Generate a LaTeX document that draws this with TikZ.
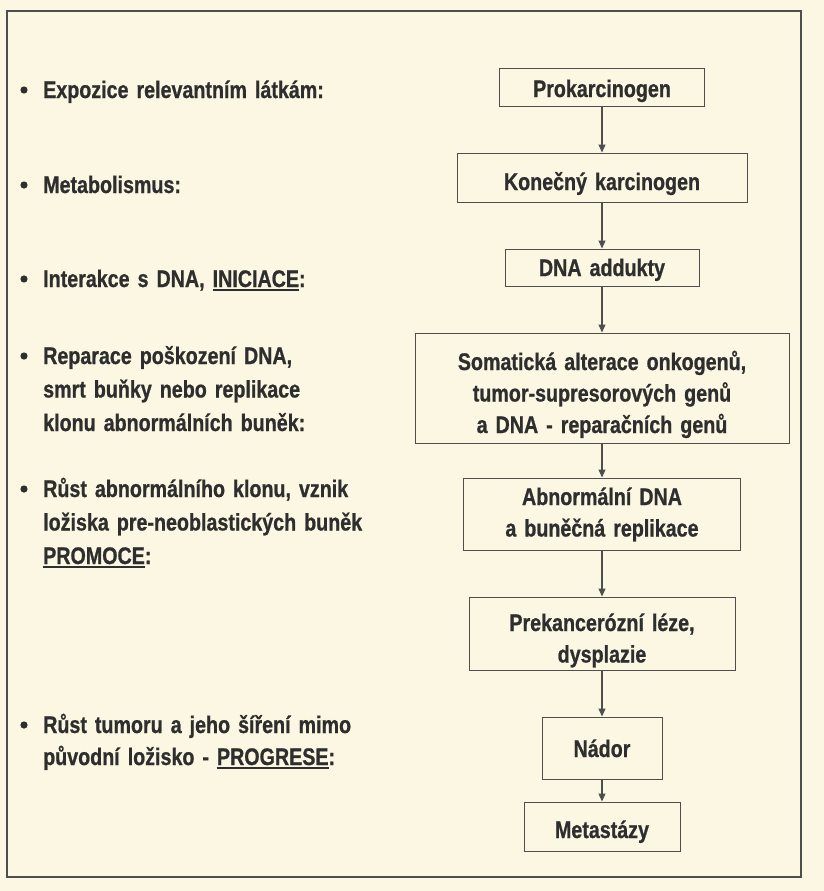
\documentclass[tikz,border=0pt]{standalone}
\usepackage{fontspec}
\newfontfamily\cond{Liberation Sans}[FakeStretch=0.82, FakeBold=0.8]
\usetikzlibrary{arrows.meta}
\definecolor{paper}{HTML}{FBF7E2}
\definecolor{ink}{HTML}{2E2E2E}
\definecolor{rulec}{HTML}{4E4E4E}
\newcommand\myul[1]{\leavevmode\setbox0\hbox{#1}\rlap{\rule[-3.6pt]{\wd0}{1.3pt}}\box0}
\newcommand\tfont[1]{\cond\bfseries\fontsize{24}{#1}\selectfont\spaceskip=5pt plus 2pt minus 1pt\relax}
\begin{document}
\begin{tikzpicture}[x=1pt,y=-1pt,
  every node/.style={font=\tfont{33.5}, text=ink},
  stepbox/.style={draw=rulec, line width=1pt, inner sep=0pt},
  boxtext/.style={anchor=base, inner sep=0pt, text width=380pt, align=center,
    font=\tfont{31.5}},
  lefttext/.style={anchor=base west, inner sep=0pt, text width=380pt, align=left},
  flow/.style={draw=rulec, line width=1.1pt, -{Triangle[length=8pt,width=7pt]}},
  bul/.style={fill=ink}]
\fill[paper] (0,0) rectangle (824,891);
\useasboundingbox (0,0) rectangle (824,891);
\draw[rulec, line width=1.1pt] (7,11) rectangle (801,877);

% flow boxes
\node[stepbox, minimum width=205pt, minimum height=37pt] (pro) at (602,87.5) {};
\node[stepbox, minimum width=290pt, minimum height=49pt] (kon) at (602,177.5) {};
\node[stepbox, minimum width=194pt, minimum height=37pt] (add) at (602,267.5) {};
\node[stepbox, minimum width=374pt, minimum height=110pt] (som) at (602,388) {};
\node[stepbox, minimum width=277pt, minimum height=72pt] (abn) at (602,514) {};
\node[stepbox, minimum width=266pt, minimum height=73pt] (pre) at (602,633.5) {};
\node[stepbox, minimum width=120pt, minimum height=62pt] (nad) at (602,748) {};
\node[stepbox, minimum width=156pt, minimum height=49pt] (met) at (602,826.5) {};

\node[boxtext] (pro-t) at ([yshift=-9.5pt]pro.center) {Prokarcinogen};
\node[boxtext] (kon-t) at ([yshift=-12.5pt]kon.center) {Konečný karcinogen};
\node[boxtext] (add-t) at ([yshift=-8.5pt]add.center) {DNA addukty};
\node[boxtext] (som-t) at ([yshift=18pt]som.center) {Somatická alterace onkogenů,\\ tumor-supresorových genů\\ a DNA - reparačních genů};
\node[boxtext] (abn-t) at ([yshift=9pt]abn.center) {Abnormální DNA\\ a buněčná replikace};
\node[boxtext] (pre-t) at ([yshift=2.5pt]pre.center) {Prekancerózní léze,\\ dysplazie};
\node[boxtext] (nad-t) at ([yshift=-9pt]nad.center) {Nádor};
\node[boxtext] (met-t) at ([yshift=-11.5pt]met.center) {Metastázy};

\draw[flow] (pro) -- (kon);
\draw[flow] (kon) -- (add);
\draw[flow] (add) -- (som);
\draw[flow] (som) -- (abn);
\draw[flow] (abn) -- (pre);
\draw[flow] (pre) -- (nad);
\draw[flow] (nad) -- (met);

% left column
\node[lefttext] (t1) at (43,98) {Expozice relevantním látkám:};
\node[lefttext] (t2) at (43,193) {Metabolismus:};
\node[lefttext] (t3) at (43,287) {Interakce s DNA, \myul{INICIACE}:};
\node[lefttext] (t4) at (43,364) {Reparace poškození DNA,\\ smrt buňky nebo replikace\\ klonu abnormálních buněk:};
\node[lefttext] (t5) at (43,497) {Růst abnormálního klonu, vznik\\ ložiska pre-neoblastických buněk\\ \myul{PROMOCE}:};
\node[lefttext, font=\tfont{32}] (t6) at (43,733) {Růst tumoru a jeho šíření mimo\\ původní ložisko - \myul{PROGRESE}:};

\foreach \n in {t1,t2,t3,t4,t5,t6}
  \fill[bul] ([xshift=-19pt,yshift=8pt]\n.base west) circle (3.6pt);
\end{tikzpicture}
\end{document}
